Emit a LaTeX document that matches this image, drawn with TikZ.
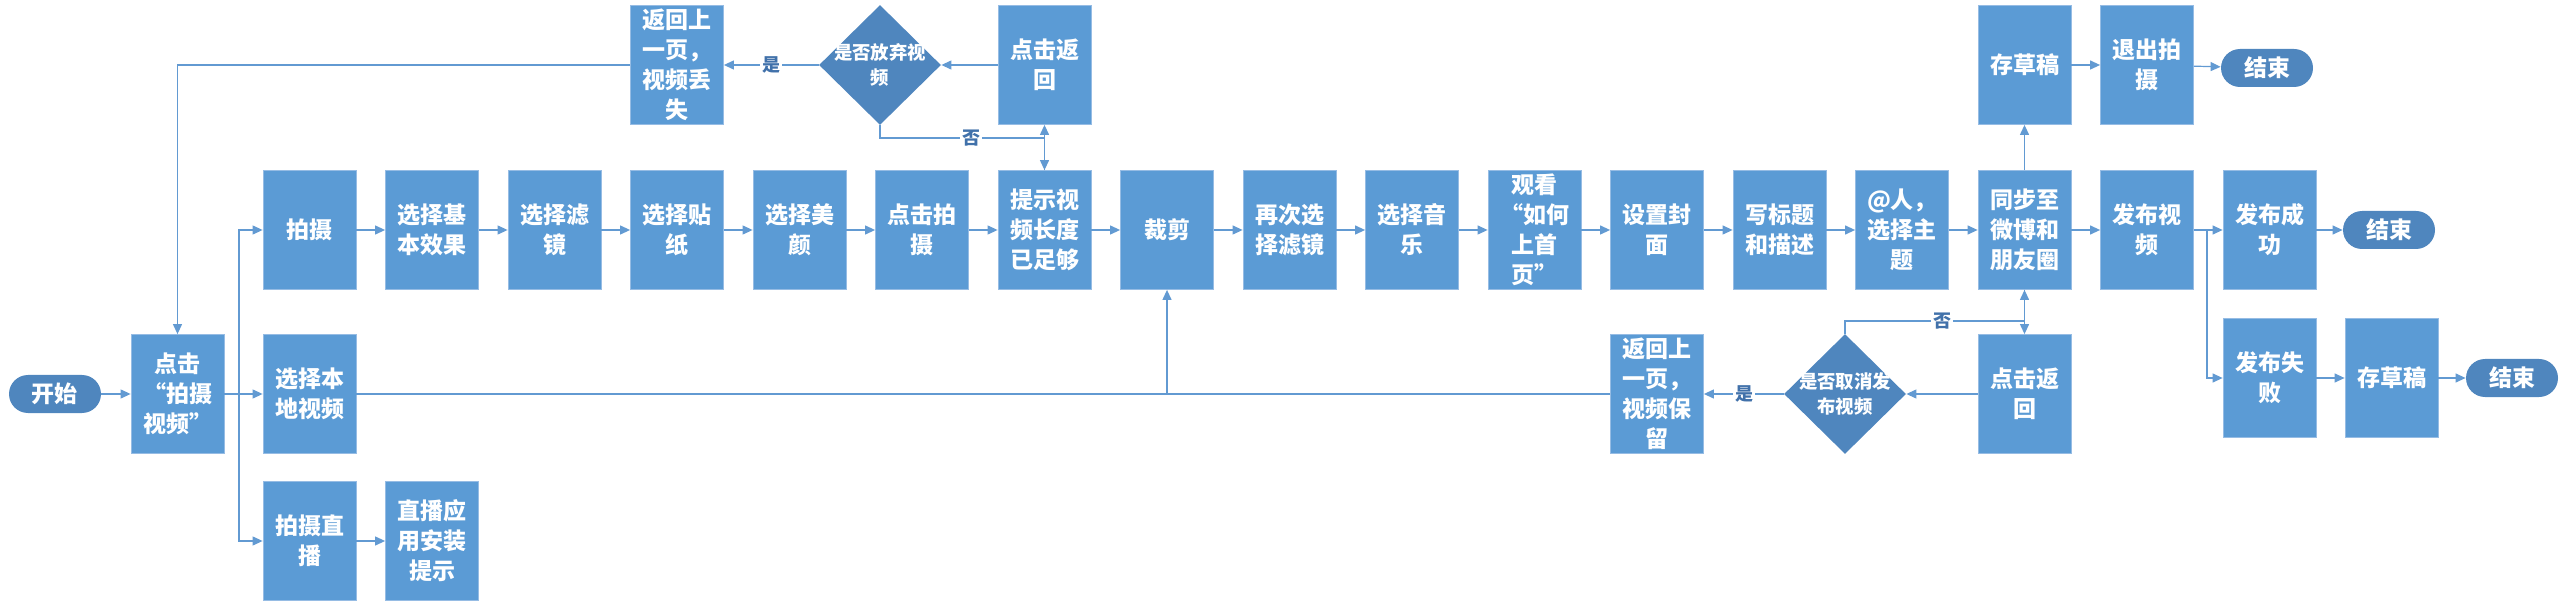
\documentclass[tikz,border=0pt]{standalone}
\usepackage{fontspec}
\newfontfamily\cjk{Noto Sans CJK SC}
\usetikzlibrary{shapes.geometric,arrows.meta}

\definecolor{boxblue}{RGB}{91,155,213}
\definecolor{darkblue}{RGB}{79,134,190}
\definecolor{lineblue}{RGB}{98,154,210}
\definecolor{edgeblue}{RGB}{150,188,228}
\definecolor{lblblue}{RGB}{65,113,170}

\tikzset{
  box/.style={rectangle, fill=boxblue, draw=edgeblue, line width=0.4pt,
    minimum width=46.5pt, minimum height=59.5pt, inner sep=0pt, align=center,
    text=white, font=\cjk\bfseries\fontsize{11.5}{15}\selectfont},
  pill/.style={rectangle, rounded corners=9.5pt, fill=darkblue,
    minimum width=46pt, minimum height=19pt, inner sep=0pt,
    text=white, font=\cjk\bfseries\fontsize{11.5}{15}\selectfont},
  decide/.style={diamond, fill=darkblue, minimum width=61pt, minimum height=60pt, inner sep=0pt},
  dtext/.style={align=center, inner sep=0pt, text=white, font=\cjk\bfseries\fontsize{9.2}{12.5}\selectfont},
  yn/.style={fill=white, inner sep=1pt, text=lblblue, font=\cjk\bfseries\fontsize{9}{9}\selectfont},
  arr/.style={draw=lineblue, line width=0.6pt, -{Triangle[length=5pt,width=4.5pt]}},
  link/.style={draw=lineblue, line width=0.6pt},
}

\begin{document}
\begin{tikzpicture}[x=0.5pt, y=-0.5pt]
\useasboundingbox (0,0) rectangle (2566,609);

% start and first choice
\node[pill] (start) at (55,394) {开始};
\node[box] (clickshoot) at (177.5,394) {点击\\“拍摄\\视频”};
\coordinate (forkA) at (239,394);

% main row
\node[box] (shoot) at (309.5,230) {拍摄};
\node[box] (basic) at (432,230) {选择基\\本效果};
\node[box] (filter) at (554.5,230) {选择滤\\镜};
\node[box] (sticker) at (677,230) {选择贴\\纸};
\node[box] (beauty) at (799.5,230) {选择美\\颜};
\node[box] (tapshoot) at (922,230) {点击拍\\摄};
\node[box] (hint) at (1044.5,230) {提示视\\频长度\\已足够};
\node[box] (crop) at (1167,230) {裁剪};
\node[box] (refilter) at (1289.5,230) {再次选\\择滤镜};
\node[box] (music) at (1412,230) {选择音\\乐};
\node[box] (howto) at (1534.5,230) {观看\\“如何\\上首\\页”};
\node[box] (cover) at (1657,230) {设置封\\面};
\node[box] (title) at (1779.5,230) {写标题\\和描述};
\node[box] (mention) at (1902,230) {@人，\\选择主\\题};
\node[box] (sync) at (2024.5,230) {同步至\\微博和\\朋友圈};
\node[box] (publish) at (2147,230) {发布视\\频};
\node[box] (success) at (2269.5,230) {发布成\\功};
\node[pill] (endA) at (2389,230) {结束};
\coordinate (forkB) at (2207,230);

% other ways in
\node[box] (local) at (309.5,394) {选择本\\地视频};
\node[box] (live) at (309.5,541) {拍摄直\\播};
\node[box] (liveapp) at (432,541) {直播应\\用安装\\提示};

% give up while shooting
\node[box] (lost) at (677,65) {返回上\\一页，\\视频丢\\失};
\node[decide] (decideA) at (880,65) {};
\node[dtext] (decideAtxt) at (decideA) {是否放弃视\\频};
\node[box] (backA) at (1044.5,65) {点击返\\回};
\coordinate (noA) at (1044.5,138);

% cancel publishing
\node[box] (keep) at (1657,394) {返回上\\一页，\\视频保\\留};
\node[decide] (decideB) at (1845,394) {};
\node[dtext] (decideBtxt) at (decideB) {是否取消发\\布视频};
\node[box] (backB) at (2024.5,394) {点击返\\回};
\coordinate (noB) at (2024.5,321);

% drafts and results
\node[box] (draftA) at (2024.5,65) {存草稿};
\node[box] (quit) at (2147,65) {退出拍\\摄};
\node[pill] (endB) at (2267,68) {结束};
\node[box] (fail) at (2269.5,378) {发布失\\败};
\node[box] (draftB) at (2391.5,378) {存草稿};
\node[pill] (endC) at (2512,378) {结束};

% connectors
\draw[arr] (start) -- (clickshoot);
\draw[arr] (clickshoot) -- (local);
\draw[arr] (forkA) |- (shoot);
\draw[arr] (forkA) |- (live);
\draw[arr] (live) -- (liveapp);

\draw[arr] (shoot) -- (basic);
\draw[arr] (basic) -- (filter);
\draw[arr] (filter) -- (sticker);
\draw[arr] (sticker) -- (beauty);
\draw[arr] (beauty) -- (tapshoot);
\draw[arr] (tapshoot) -- (hint);
\draw[arr] (hint) -- (crop);
\draw[arr] (crop) -- (refilter);
\draw[arr] (refilter) -- (music);
\draw[arr] (music) -- (howto);
\draw[arr] (howto) -- (cover);
\draw[arr] (cover) -- (title);
\draw[arr] (title) -- (mention);
\draw[arr] (mention) -- (sync);
\draw[arr] (sync) -- (publish);
\draw[arr] (publish) -- (success);
\draw[arr] (success) -- (endA);
\draw[arr] (forkB) |- (fail);
\draw[arr] (fail) -- (draftB);
\draw[arr] (draftB) -- (endC);

\draw[arr] (local.east) -| (crop.south);
\draw[link] (keep.west) -- (keep.west -| crop.south);

\draw[arr] (hint.north) -- (backA.south);
\draw[arr] (backA.west) -- (decideA.east);
\draw[arr] (decideA.west) -- (lost.east);
\node[yn] (yesA) at (771,65) {是};
\draw[arr] (decideA.south) |- (noA) -- (hint.north);
\node[yn] (noAlbl) at (971,138) {否};
\draw[arr] (lost.west) -| (clickshoot.north);

\draw[arr] (sync.south) -- (backB.north);
\draw[arr] (backB.west) -- (decideB.east);
\draw[arr] (decideB.west) -- (keep.east);
\node[yn] (yesB) at (1744,394) {是};
\draw[arr] (decideB.north) |- (noB) -- (sync.south);
\node[yn] (noBlbl) at (1942,321) {否};

\draw[arr] (sync.north) -- (draftA.south);
\draw[arr] (draftA) -- (quit);
\draw[arr] (quit) -- (endB);
\end{tikzpicture}
\end{document}
